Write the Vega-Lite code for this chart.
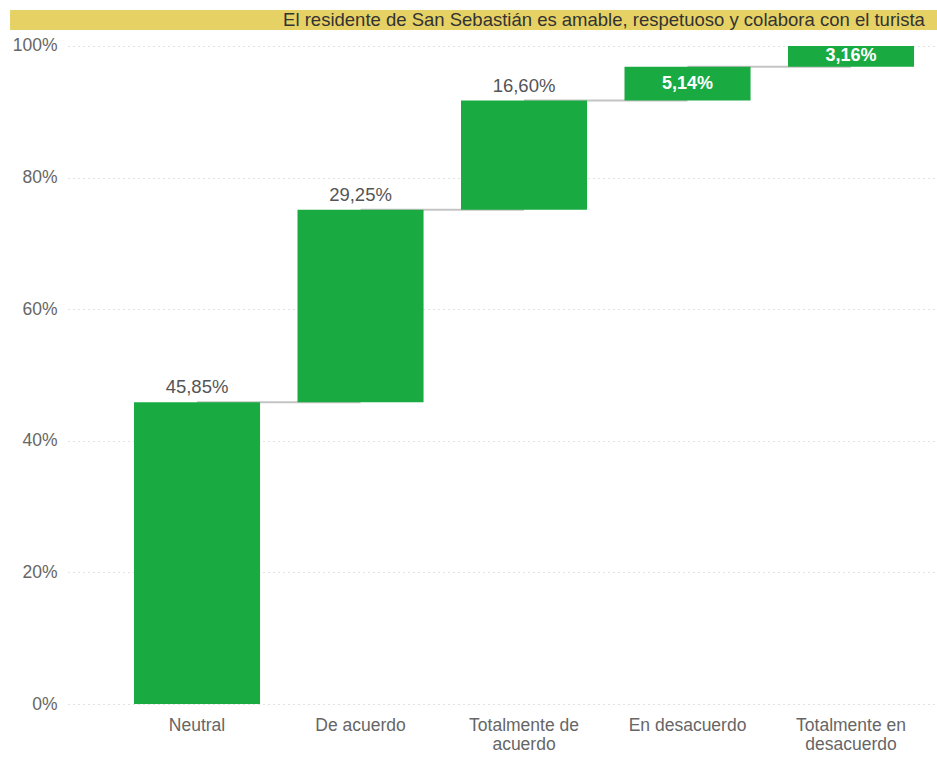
{
  "$schema": "https://vega.github.io/schema/vega-lite/v6.json",
  "width": 869,
  "height": 694,
  "autosize": "none",
  "padding": {"left": 68, "top": 10, "right": 0, "bottom": 54},
  "config": {"view": {"stroke": null}, "font": "Liberation Sans"},
  "resolve": {"scale": {"x": "independent"}},
  "layer": [
    {
      "data": {"values": [
        {"cat": "Neutral", "start": 0, "end": 45.85, "mid": 22.9, "label": "45,85%", "inside": false, "next": "De acuerdo"},
        {"cat": "De acuerdo", "start": 45.85, "end": 75.10, "mid": 60.5, "label": "29,25%", "inside": false, "next": "Totalmente de acuerdo"},
        {"cat": "Totalmente de acuerdo", "start": 75.10, "end": 91.70, "mid": 83.4, "label": "16,60%", "inside": false, "next": "En desacuerdo"},
        {"cat": "En desacuerdo", "start": 91.70, "end": 96.84, "mid": 94.27, "label": "5,14%", "inside": true, "next": "Totalmente en desacuerdo"},
        {"cat": "Totalmente en desacuerdo", "start": 96.84, "end": 100.0, "mid": 98.42, "label": "3,16%", "inside": true, "next": null}
      ]},
      "encoding": {
        "x": {
          "field": "cat",
          "type": "nominal",
          "scale": {
            "domain": ["Neutral", "De acuerdo", "Totalmente de acuerdo", "En desacuerdo", "Totalmente en desacuerdo"],
            "paddingInner": 0.229,
            "paddingOuter": 0.272,
            "align": 0.742
          },
          "axis": {
            "title": null,
            "labelAngle": 0,
            "domain": false,
            "ticks": false,
            "grid": false,
            "labelPadding": 12,
            "labelFontSize": 17.5,
            "labelColor": "#666666",
            "labelLineHeight": 19,
            "labelLimit": 0,
            "labelExpr": "datum.label == 'Totalmente de acuerdo' ? ['Totalmente de','acuerdo'] : datum.label == 'Totalmente en desacuerdo' ? ['Totalmente en','desacuerdo'] : datum.label"
          }
        }
      },
      "layer": [
        {
          "transform": [{"filter": "datum.next != null"}],
          "mark": {"type": "rule", "color": "#c4c4c4", "strokeWidth": 2},
          "encoding": {
            "x2": {"field": "next"},
            "y": {"field": "end", "type": "quantitative"}
          }
        },
        {
          "mark": {"type": "bar", "color": "#1aaa42"},
          "encoding": {
            "y": {
              "field": "start",
              "type": "quantitative",
              "scale": {"domain": [0, 105.47], "nice": false},
              "axis": {
                "title": null,
                "values": [0, 20, 40, 60, 80, 100],
                "labelExpr": "datum.value + '%'",
                "domain": false,
                "ticks": false,
                "tickSize": 0,
                "labelPadding": 11,
                "labelFontSize": 17.5,
                "labelColor": "#666666",
                "grid": true,
                "gridColor": "#c4c4c4",
                "gridDash": [1, 4]
              }
            },
            "y2": {"field": "end"}
          }
        },
        {
          "transform": [{"filter": "!datum.inside"}],
          "mark": {"type": "text", "dy": -9, "baseline": "alphabetic", "fontSize": 18.5, "color": "#555555"},
          "encoding": {
            "y": {"field": "end", "type": "quantitative"},
            "text": {"field": "label"}
          }
        },
        {
          "transform": [{"filter": "datum.inside"}],
          "mark": {"type": "text", "baseline": "middle", "fontSize": 18, "fontWeight": "bold", "color": "white"},
          "encoding": {
            "y": {"field": "mid", "type": "quantitative"},
            "text": {"field": "label"}
          }
        }
      ]
    },
    {
      "data": {"values": [{"title": "El residente de San Sebastián es amable, respetuoso y colabora con el turista"}]},
      "layer": [
        {
          "mark": {"type": "rect", "color": "#e6d264"},
          "encoding": {
            "x": {"datum": -0.0667, "type": "quantitative", "scale": {"domain": [0, 1]}, "axis": null},
            "x2": {"datum": 1},
            "y": {"datum": 102.43, "type": "quantitative"},
            "y2": {"datum": 105.47}
          }
        },
        {
          "mark": {"type": "text", "align": "right", "baseline": "middle", "fontSize": 18.5, "color": "#333333"},
          "encoding": {
            "x": {"datum": 0.986, "type": "quantitative"},
            "y": {"datum": 103.95, "type": "quantitative"},
            "text": {"field": "title"}
          }
        }
      ]
    }
  ]
}
